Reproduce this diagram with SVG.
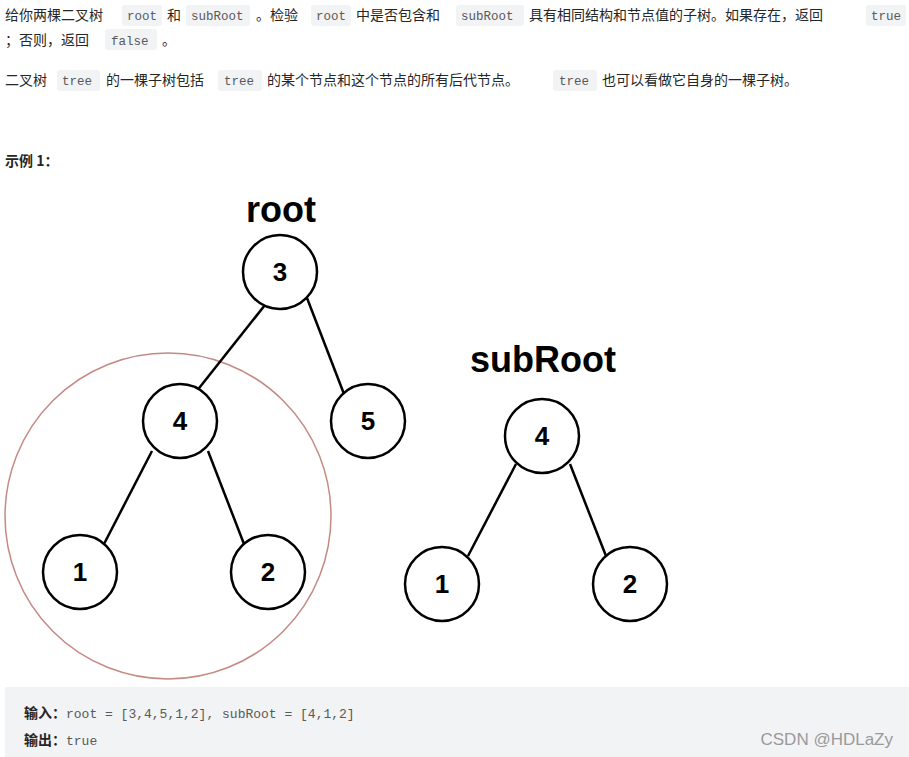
<svg xmlns="http://www.w3.org/2000/svg" width="909" height="757" viewBox="0 0 909 757">
<style>
.t{font-family:"Noto Sans CJK SC","Noto Sans",sans-serif;font-size:14px;fill:#262626}
.c{font-family:"Liberation Mono",monospace;font-size:12.5px;fill:#595959}
.p{fill:#f2f3f5}
.n circle{fill:#fff;stroke:#000;stroke-width:2.5}
.n text{font-family:"Liberation Sans",Arial,sans-serif;font-weight:bold;font-size:26px;text-anchor:middle;fill:#000}
.lbl{font-family:"Liberation Sans",Arial,sans-serif;font-weight:bold;font-size:36px;text-anchor:middle;fill:#000}
#edges line{stroke:#000;stroke-width:2.5}
</style>
<rect width="909" height="757" fill="#fff"/>
<g id="intro">
<rect class="p" x="122" y="5" width="40" height="21" rx="3"/>
<rect class="p" x="186" y="5" width="64" height="21" rx="3"/>
<rect class="p" x="311" y="5" width="40" height="21" rx="3"/>
<rect class="p" x="456" y="5" width="68" height="21" rx="3"/>
<rect class="p" x="866" y="5" width="40" height="21" rx="3"/>
<rect class="p" x="105" y="29" width="52" height="21" rx="3"/>
<rect class="p" x="57" y="70" width="43" height="21" rx="3"/>
<rect class="p" x="218" y="70" width="44" height="21" rx="3"/>
<rect class="p" x="553" y="70" width="44" height="21" rx="3"/>
<text class="t" x="5" y="20">给你两棵二叉树</text>
<text class="c" x="127" y="20">root</text>
<text class="t" x="167" y="20">和</text>
<text class="c" x="191" y="20">subRoot</text>
<text class="t" x="256" y="20">。检验</text>
<text class="c" x="316" y="20">root</text>
<text class="t" x="356" y="20">中是否包含和</text>
<text class="c" x="461" y="20">subRoot</text>
<text class="t" x="529" y="20">具有相同结构和节点值的子树。如果存在，返回</text>
<text class="c" x="871" y="20">true</text>
<text class="t" x="5" y="45">；否则，返回</text>
<text class="c" x="111" y="45">false</text>
<text class="t" x="162" y="45">。</text>
<text class="t" x="5" y="85">二叉树</text>
<text class="c" x="62" y="85">tree</text>
<text class="t" x="106" y="85">的一棵子树包括</text>
<text class="c" x="224" y="85">tree</text>
<text class="t" x="267" y="85">的某个节点和这个节点的所有后代节点。</text>
<text class="c" x="559" y="85">tree</text>
<text class="t" x="602" y="85">也可以看做它自身的一棵子树。</text>
<text class="t" x="5" y="166" style="font-weight:bold">示例 1：</text>
</g>
<circle cx="168" cy="516" r="163" fill="none" stroke="#c48a84" stroke-width="1.5"/>
<text class="lbl" x="281" y="222">root</text>
<text class="lbl" x="543" y="372">subRoot</text>
<g id="edges">
<line x1="265" y1="305" x2="196" y2="392"/>
<line x1="307" y1="298" x2="344" y2="394"/>
<line x1="152" y1="451" x2="104" y2="544"/>
<line x1="208" y1="451" x2="244" y2="544"/>
<line x1="516" y1="464" x2="468" y2="556"/>
<line x1="570" y1="464" x2="606" y2="556"/>
</g>
<g id="n3" class="n"><circle cx="280" cy="272" r="37"/><text x="280" y="281">3</text></g>
<g id="n4" class="n"><circle cx="180" cy="421" r="37"/><text x="180" y="430">4</text></g>
<g id="n5" class="n"><circle cx="368" cy="421" r="37"/><text x="368" y="430">5</text></g>
<g id="n1" class="n"><circle cx="80" cy="572" r="37"/><text x="80" y="581">1</text></g>
<g id="n2" class="n"><circle cx="268" cy="572" r="37"/><text x="268" y="581">2</text></g>
<g id="s4" class="n"><circle cx="542" cy="436" r="37"/><text x="542" y="445">4</text></g>
<g id="s1" class="n"><circle cx="442" cy="584" r="37"/><text x="442" y="593">1</text></g>
<g id="s2" class="n"><circle cx="630" cy="584" r="37"/><text x="630" y="593">2</text></g>
<g id="example">
<rect x="5" y="687" width="904" height="70" fill="#f2f3f5"/>
<text class="t" x="24" y="718"><tspan font-weight="bold">输入：</tspan><tspan class="c" style="font-size:13px">root = [3,4,5,1,2], subRoot = [4,1,2]</tspan></text>
<text class="t" x="24" y="745"><tspan font-weight="bold">输出：</tspan><tspan class="c" style="font-size:13px">true</tspan></text>
<text x="893" y="745" text-anchor="end" style="font-family:'Liberation Sans',sans-serif;font-size:17px;fill:#9a9a9a">CSDN @HDLaZy</text>
</g>
</svg>
